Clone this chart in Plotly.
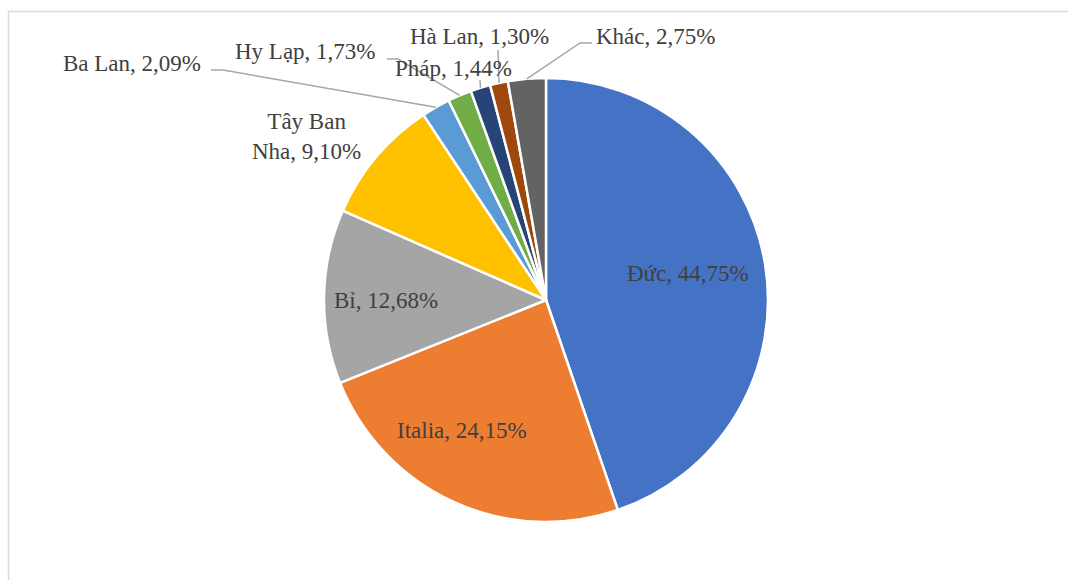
import math
import plotly.graph_objects as go

# Export-share data (percent), listed clockwise from 12 o'clock
countries = ["Đức", "Italia", "Bỉ", "Tây Ban Nha", "Ba Lan", "Hy Lạp", "Pháp", "Hà Lan", "Khác"]
shares = [44.75, 24.15, 12.68, 9.10, 2.09, 1.73, 1.44, 1.30, 2.75]
colors = ["#4472C4", "#ED7D31", "#A5A5A5", "#FFC000", "#5B9BD5",
          "#70AD47", "#264478", "#9E480E", "#636363"]

W, H = 1068, 580
CX, CY, R = 546, 300, 222  # pie centre / radius in pixels

def px(x):
    return x / W

def py(y):
    return 1 - y / H

def fmt(v):
    return f"{v:.2f}".replace(".", ",")

label_text = [f"{c}, {fmt(v)}%" for c, v in zip(countries, shares)]
label_text[3] = f"Tây Ban<br>Nha, {fmt(shares[3])}%"

# label centres (pixels)
label_pos = {
    "Đức": (688, 273),
    "Italia": (462, 430),
    "Bỉ": (386, 300),
    "Tây Ban Nha": (306, 136),
    "Ba Lan": (132, 63),
    "Hy Lạp": (305, 52),
    "Pháp": (453, 68),
    "Hà Lan": (479, 37),
    "Khác": (655, 37),
}

# leader lines: label-side start, optional elbow (pixels); end lands on the slice edge
leaders = {
    "Ba Lan": [(211, 70), (223, 70)],
    "Hy Lạp": [(387, 59), (398, 59)],
    "Pháp": [(480, 80)],
    "Hà Lan": [(498, 50)],
    "Khác": [(592, 43), (580, 43)],
}

fig = go.Figure(go.Pie(
    labels=countries,
    values=shares,
    sort=False,
    direction="clockwise",
    rotation=0,
    marker=dict(colors=colors, line=dict(color="white", width=2.5)),
    textinfo="none",
    hoverinfo="label+percent",
    domain=dict(x=[px(CX - R), px(CX + R)], y=[py(CY + R), py(CY - R)]),
    showlegend=False,
))

annotations = []
for name, txt in zip(countries, label_text):
    x, y = label_pos[name]
    annotations.append(dict(
        x=px(x), y=py(y), xref="paper", yref="paper", text=txt,
        showarrow=False, xanchor="center", yanchor="middle",
        font=dict(family="Liberation Serif", size=23, color="#404040"),
    ))

shapes = []
total = sum(shares)
cum = 0.0
mid_angle = {}
for name, v in zip(countries, shares):
    mid_angle[name] = (cum + v / 2) / total * 2 * math.pi
    cum += v

for name, pts in leaders.items():
    a = mid_angle[name]
    end = (CX + R * math.sin(a), CY - R * math.cos(a))
    path_pts = pts + [end]
    path = "M " + " L ".join(f"{px(x):.5f},{py(y):.5f}" for x, y in path_pts)
    shapes.append(dict(type="path", path=path, xref="paper", yref="paper",
                       line=dict(color="#A6A6A6", width=1.5)))

# chart-area frame
shapes.append(dict(type="rect", xref="paper", yref="paper",
                   x0=px(8.5), y0=py(11.5), x1=1.05, y1=-0.05,
                   line=dict(color="#D9D9D9", width=1.5), fillcolor="rgba(0,0,0,0)"))

fig.update_layout(
    width=W, height=H,
    margin=dict(l=0, r=0, t=0, b=0),
    paper_bgcolor="white",
    plot_bgcolor="white",
    annotations=annotations,
    shapes=shapes,
)

fig.write_html("out.html")
